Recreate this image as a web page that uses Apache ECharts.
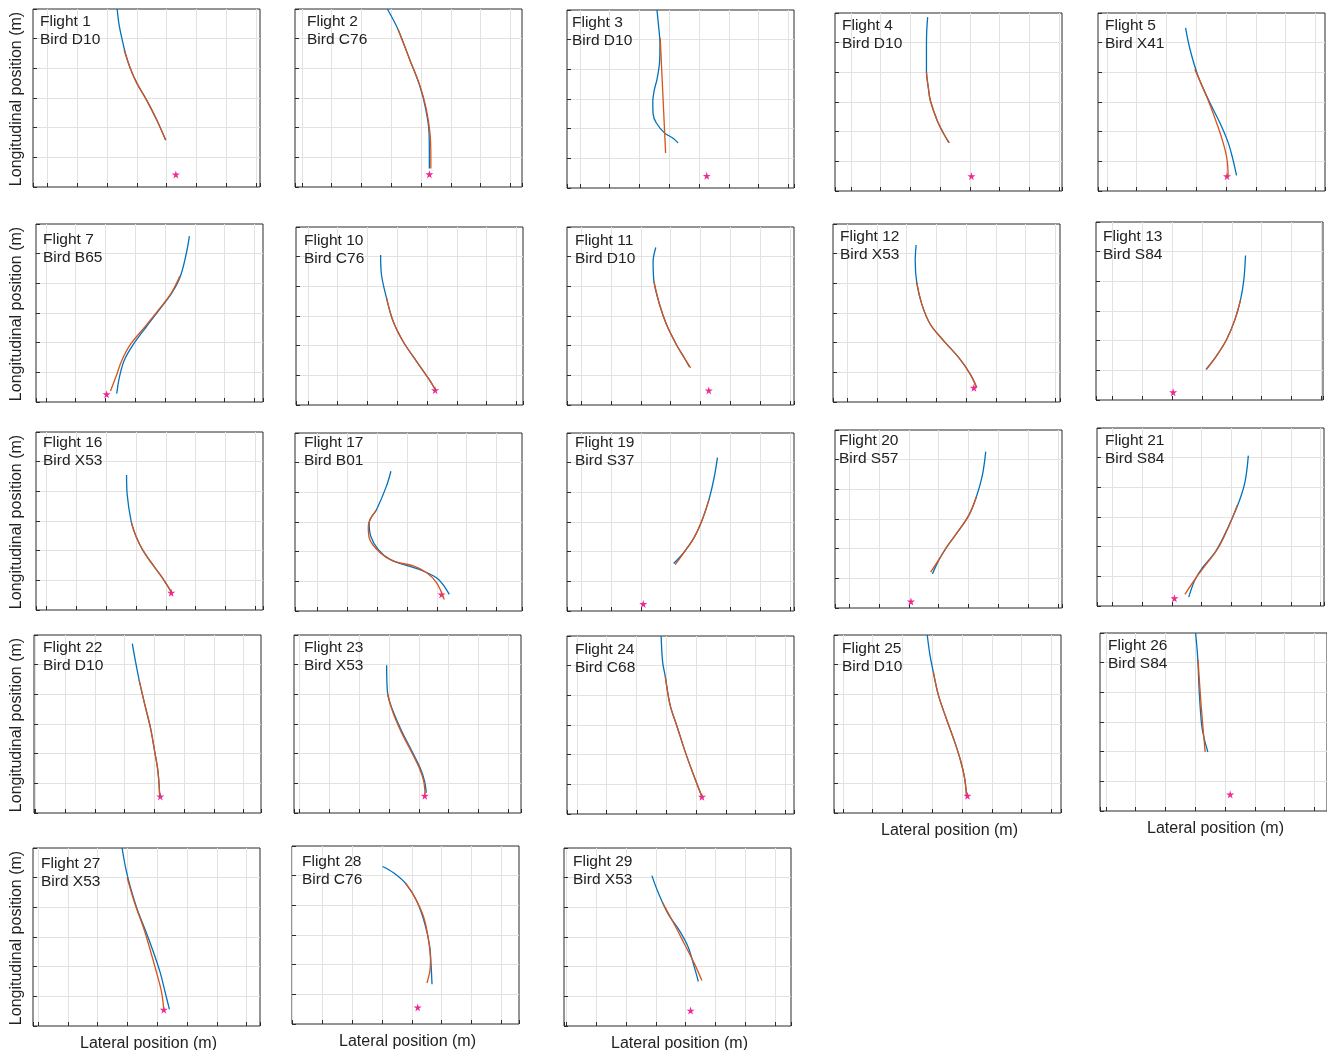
<!DOCTYPE html>
<html><head><meta charset="utf-8">
<script src="https://cdn.jsdelivr.net/npm/echarts@6/dist/echarts.min.js"></script>
<style>html,body{margin:0;padding:0;background:#fff}#c{width:1327px;height:1050px}</style>
</head><body><div id="c"></div><script>
// ---------- data (grid units: one unit = one grid square) ----------
const flights = ['Flight 1','Flight 2','Flight 3','Flight 4','Flight 5','Flight 7','Flight 10','Flight 11','Flight 12','Flight 13','Flight 16','Flight 17','Flight 19','Flight 20','Flight 21','Flight 22','Flight 23','Flight 24','Flight 25','Flight 26','Flight 27','Flight 28','Flight 29'];
const birds = ['Bird D10','Bird C76','Bird D10','Bird D10','Bird X41','Bird B65','Bird C76','Bird D10','Bird X53','Bird S84','Bird X53','Bird B01','Bird S37','Bird S57','Bird S84','Bird D10','Bird X53','Bird C68','Bird D10','Bird S84','Bird X53','Bird C76','Bird X53'];
const xMins = [-0.485,-0.23,-0.43,-0.53,-0.3,-0.33,-0.4,-0.48,-0.47,-0.56,-0.36,-0.76,-0.48,-0.48,-0.51,-0.04,-0.19,-0.33,-0.3,-0.2,-0.17,-0.02,-0.08];
const xSpan = 7.62;
const yMin = 0, yMax = 6;
const blueTracks = [
  [[2.34,6.0],[2.40,5.5],[2.5,5.0],[2.62,4.5],[2.78,4.0],[3.0,3.5],[3.33,2.93],[3.67,2.26],[3.97,1.58]],
  [[2.87,6.0],[3.23,5.31],[3.62,4.3],[3.96,3.4],[4.16,2.62],[4.27,1.83],[4.28,1.04],[4.28,0.62]],
  [[2.59,6.0],[2.65,5.4],[2.69,4.9],[2.68,4.3],[2.6,3.7],[2.5,3.3],[2.45,2.9],[2.46,2.5],[2.57,2.19],[2.85,1.85],[3.13,1.68],[3.3,1.52]],
  [[2.58,5.86],[2.55,5.4],[2.54,4.96],[2.54,4.0],[2.6,3.5],[2.67,3.05],[2.9,2.38],[3.12,1.93],[3.29,1.63]],
  [[2.64,5.5],[2.79,4.77],[3.06,3.87],[3.4,3.09],[3.79,2.3],[4.07,1.63],[4.22,1.1],[4.35,0.53]],
  [[4.82,5.59],[4.71,4.98],[4.52,4.25],[4.24,3.69],[3.91,3.24],[3.36,2.52],[2.91,1.9],[2.63,1.4],[2.47,0.84],[2.38,0.28]],
  [[2.44,5.06],[2.47,4.39],[2.64,3.6],[2.86,2.82],[3.19,2.15],[3.64,1.48],[4.03,0.92],[4.27,0.53]],
  [[2.5,5.31],[2.41,4.83],[2.44,4.16],[2.63,3.38],[2.86,2.71],[3.19,2.04],[3.45,1.6],[3.63,1.28]],
  [[2.32,5.29],[2.29,4.75],[2.34,4.03],[2.51,3.3],[2.79,2.63],[3.24,2.07],[3.74,1.51],[4.13,0.95],[4.35,0.5]],
  [[4.46,4.87],[4.4,4.03],[4.29,3.37],[4.1,2.7],[3.82,2.03],[3.48,1.48],[3.13,1.03]],
  [[2.68,4.55],[2.7,3.9],[2.84,2.96],[3.01,2.45],[3.23,2.01],[3.57,1.51],[3.9,1.06],[4.18,0.61]],
  [[2.46,4.71],[2.31,4.21],[1.98,3.42],[1.73,2.98],[1.78,2.53],[2.03,2.08],[2.43,1.74],[3.04,1.52],[3.54,1.35],[4.05,1.07],[4.42,0.56]],
  [[4.57,5.17],[4.46,4.5],[4.29,3.77],[4.07,3.1],[3.79,2.48],[3.45,1.98],[3.1,1.6]],
  [[4.58,5.27],[4.47,4.49],[4.27,3.76],[4.02,3.14],[3.65,2.58],[3.32,2.13],[3.04,1.68],[2.79,1.15]],
  [[4.57,5.07],[4.46,4.19],[4.26,3.52],[3.93,2.74],[3.48,1.85],[3.03,1.29],[2.76,0.84],[2.57,0.3]],
  [[3.26,5.71],[3.37,5.09],[3.49,4.48],[3.68,3.65],[3.87,2.87],[4.01,2.08],[4.12,1.41],[4.18,0.58]],
  [[2.92,4.98],[2.95,4.04],[3.14,3.42],[3.43,2.75],[3.71,2.2],[4.04,1.53],[4.19,1.08],[4.25,0.68]],
  [[2.83,6.0],[2.88,5.13],[2.97,4.63],[3.13,3.68],[3.38,2.9],[3.63,2.12],[3.91,1.34],[4.2,0.58]],
  [[2.83,6.0],[2.92,5.33],[3.03,4.77],[3.2,3.99],[3.46,3.21],[3.74,2.43],[3.95,1.76],[4.08,1.2],[4.15,0.59]],
  [[3.01,6.0],[3.08,5.16],[3.13,4.04],[3.21,2.92],[3.29,2.47],[3.42,1.99]],
  [[2.82,6.0],[2.95,5.28],[3.12,4.6],[3.33,3.93],[3.59,3.26],[3.84,2.58],[4.1,1.8],[4.27,1.12],[4.41,0.56]],
  [[3.02,5.31],[3.4,5.09],[3.83,4.7],[4.17,4.14],[4.43,3.41],[4.6,2.63],[4.65,1.96],[4.68,1.34]],
  [[2.87,5.07],[3.09,4.48],[3.43,3.75],[3.78,3.24],[4.08,2.68],[4.29,2.0],[4.43,1.5]]
];
const orangeTracks = [
  [[2.57,4.63],[2.78,4.0],[3.0,3.5],[3.33,2.93],[3.67,2.26],[3.97,1.58]],
  [[3.23,5.31],[3.62,4.3],[3.97,3.4],[4.18,2.62],[4.3,1.83],[4.33,1.04],[4.33,0.62]],
  [[2.7,5.05],[2.88,1.18]],
  [[2.54,4.0],[2.6,3.5],[2.67,3.05],[2.9,2.38],[3.12,1.93],[3.31,1.62]],
  [[2.95,4.1],[3.34,3.2],[3.68,2.3],[3.9,1.63],[4.03,1.07],[4.07,0.5]],
  [[4.5,4.25],[4.22,3.69],[3.89,3.24],[3.33,2.54],[2.84,1.94],[2.55,1.4],[2.35,0.84],[2.17,0.37]],
  [[2.64,3.6],[2.86,2.82],[3.19,2.15],[3.64,1.48],[4.03,0.92],[4.27,0.53]],
  [[2.44,4.16],[2.63,3.38],[2.86,2.71],[3.19,2.04],[3.47,1.57],[3.67,1.25]],
  [[2.34,4.03],[2.51,3.3],[2.79,2.63],[3.24,2.07],[3.74,1.51],[4.13,0.95],[4.35,0.5]],
  [[4.29,3.37],[4.1,2.7],[3.82,2.03],[3.48,1.48],[3.15,1.03]],
  [[2.84,2.96],[3.01,2.45],[3.23,2.01],[3.57,1.51],[3.9,1.06],[4.18,0.61]],
  [[1.97,3.4],[1.70,2.86],[1.73,2.47],[2.09,1.97],[2.54,1.68],[3.21,1.52],[3.66,1.29],[3.99,0.96],[4.25,0.39]],
  [[4.29,3.77],[4.07,3.1],[3.79,2.48],[3.45,1.98],[3.15,1.56]],
  [[4.27,3.76],[4.02,3.14],[3.65,2.58],[3.32,2.13],[3.04,1.68],[2.73,1.21]],
  [[4.2,3.4],[3.92,2.7],[3.59,2.01],[3.15,1.4],[2.81,0.95],[2.44,0.39]],
  [[3.49,4.48],[3.68,3.65],[3.87,2.87],[4.01,2.08],[4.12,1.41],[4.18,0.58]],
  [[2.95,4.04],[3.12,3.42],[3.4,2.75],[3.68,2.2],[4.01,1.53],[4.16,1.08],[4.21,0.63]],
  [[2.97,4.63],[3.13,3.68],[3.38,2.9],[3.63,2.12],[3.91,1.34],[4.2,0.58]],
  [[3.03,4.77],[3.2,3.99],[3.46,3.21],[3.74,2.43],[3.95,1.76],[4.08,1.2],[4.15,0.59]],
  [[3.09,5.1],[3.2,3.5],[3.33,1.99]],
  [[2.99,5.0],[3.24,4.15],[3.54,3.31],[3.76,2.58],[4.01,1.68],[4.15,1.12],[4.22,0.56]],
  [[3.78,4.75],[4.08,4.31],[4.39,3.63],[4.56,2.85],[4.63,2.07],[4.6,1.73],[4.51,1.38]],
  [[3.23,4.15],[3.6,3.47],[3.95,2.79],[4.29,2.12],[4.55,1.53]]
];
const stars = [[4.31,0.42],[4.28,0.43],[4.26,0.41],[4.05,0.5],[4.03,0.5],[2.04,0.26],[4.27,0.5],[4.28,0.49],[4.26,0.48],[2.03,0.26],[4.18,0.58],[4.16,0.56],[2.08,0.24],[2.07,0.22],[2.09,0.26],[4.2,0.56],[4.2,0.58],[4.2,0.58],[4.18,0.58],[4.17,0.56],[4.22,0.55],[4.2,0.56],[4.17,0.52]];
const yTitle = 'Longitudinal position (m)';
const xTitle = 'Lateral position (m)';

// ---------- layout ----------
const panelLeft = [33,295,567,835,1098,36,296,567,833,1096,36,295,567,835,1097,34,294,567,834,1100,33,292,564];
const panelTop  = [9,9,10,13,13,224,227,227,224,222,432,433,433,430,428,635,635,636,635,633,848,846,848];
const panelW = 227, panelH = 178;
const labelDx = [7,12,5,7,7,7,8,8,7,7,7,9,8,4,8,9,10,8,8,8,8,10,9];
const labelDy = [7,7,7,7,7,10,8,8,7,9,5,4,4,5,7,7,7,8,8,7,10,10,8];
const yTitlePanels = [0,5,10,15,20];
const xTitlePanels = [18,19,20,21,22];

const FONT = '"Liberation Sans", Arial, Helvetica, sans-serif';
const starPath = 'path://M50,0 L61,35 L98,35 L68,57 L79,91 L50,70 L21,91 L32,57 L2,35 L39,35 Z';

const grids = [], xAxes = [], yAxes = [], series = [], graphics = [];
flights.forEach((f, i) => {
  grids.push({left: panelLeft[i], top: panelTop[i], width: panelW, height: panelH,
    show: true, borderColor: '#2b2b2b', borderWidth: 1, backgroundColor: 'transparent', containLabel: false});
  const common = () => ({
    axisLine: {show: false, onZero: false},
    axisLabel: {show: false},
    axisTick: {show: true, inside: true, length: 4, lineStyle: {color: '#2b2b2b', width: 1}},
    splitLine: {show: true, showMinLine: false, showMaxLine: false, lineStyle: {color: '#e2e2e2', width: 1}}
  });
  xAxes.push(Object.assign({type: 'value', gridIndex: i, position: 'bottom', min: xMins[i], max: xMins[i] + xSpan,
    minInterval: 1, maxInterval: 1, splitNumber: 8}, common()));
  yAxes.push(Object.assign({type: 'value', gridIndex: i, position: 'left', min: yMin, max: yMax, interval: 1}, common()));
  series.push({type: 'line', xAxisIndex: i, yAxisIndex: i, data: blueTracks[i], smooth: 0.35,
    symbol: 'none', lineStyle: {color: '#0072BD', width: 1.3}, z: 3, animation: false, silent: true});
  series.push({type: 'line', xAxisIndex: i, yAxisIndex: i, data: orangeTracks[i], smooth: 0.35,
    symbol: 'none', lineStyle: {color: '#D95319', width: 1.3}, z: 4, animation: false, silent: true});
  series.push({type: 'scatter', xAxisIndex: i, yAxisIndex: i, data: [stars[i]], symbol: starPath,
    symbolSize: 8, itemStyle: {color: '#EE1289', opacity: 0.9}, z: 2, animation: false, silent: true});
  graphics.push({type: 'text', left: panelLeft[i] + labelDx[i], top: panelTop[i] + labelDy[i] - 4,
    style: {text: f + '\n' + birds[i], font: '15.5px ' + FONT, fill: '#222222', lineHeight: 18.6}, z: 10});
});
yTitlePanels.forEach(i => {
  graphics.push({type: 'text', x: 17, y: panelTop[i] + panelH / 2 + 1, rotation: Math.PI / 2,
    style: {text: yTitle, font: '16px ' + FONT, fill: '#222222', align: 'center', verticalAlign: 'middle'}, z: 10});
});
xTitlePanels.forEach(i => {
  graphics.push({type: 'text', x: panelLeft[i] + panelW / 2 + 2, y: panelTop[i] + panelH + 18,
    style: {text: xTitle, font: '16px ' + FONT, fill: '#222222', align: 'center', verticalAlign: 'middle'}, z: 10});
});

const chart = echarts.init(document.getElementById('c'), null, {renderer: 'canvas'});
chart.setOption({animation: false, grid: grids, xAxis: xAxes, yAxis: yAxes, series: series, graphic: graphics});
</script></body></html>
